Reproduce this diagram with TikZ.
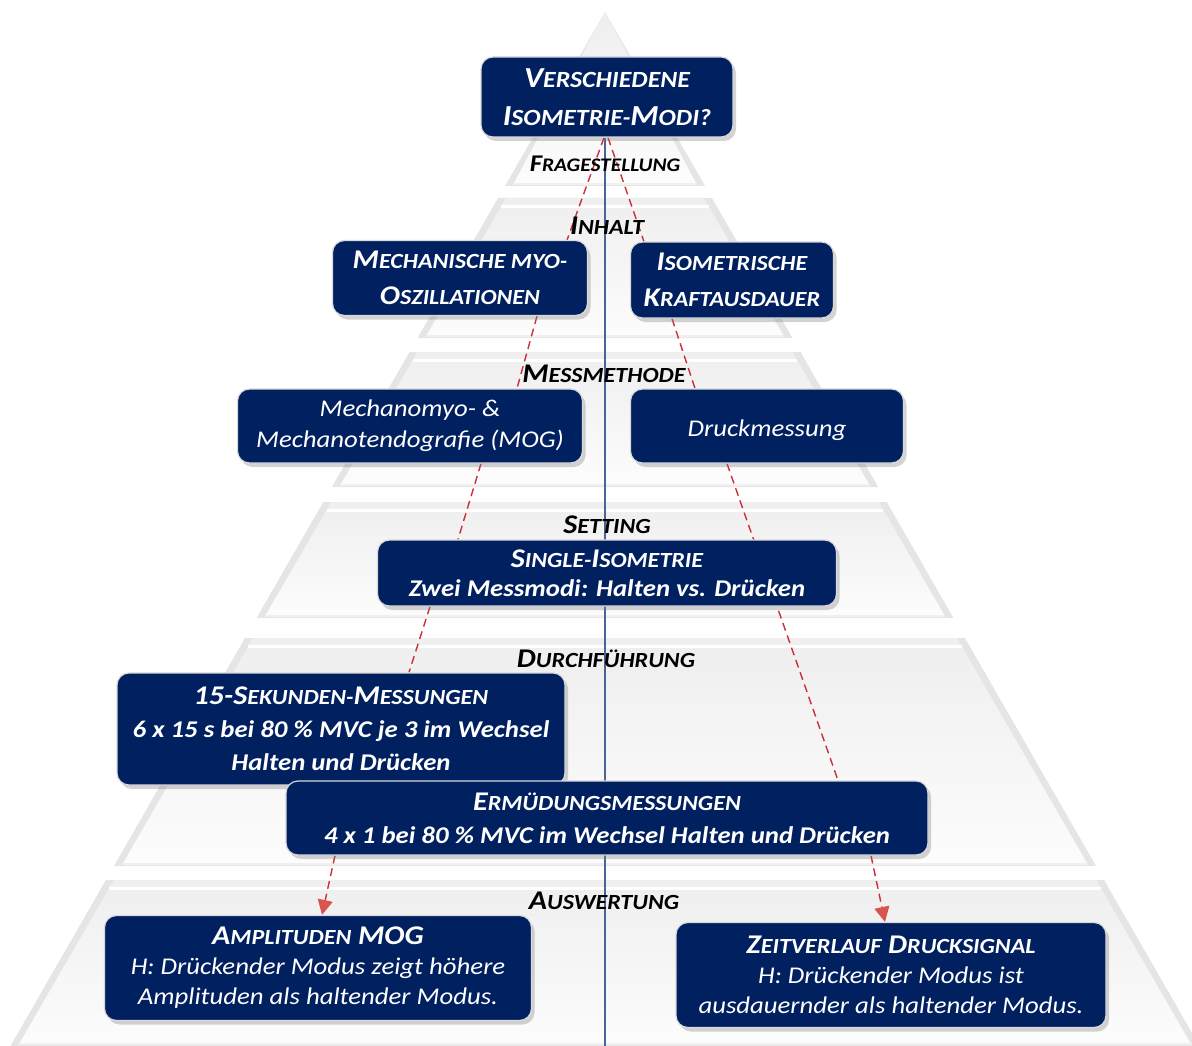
\documentclass[tikz,border=0pt]{standalone}
\usepackage{fontspec}
\setmainfont{Carlito}[FakeStretch=1.115]
\usetikzlibrary{arrows.meta,shadows}

\definecolor{navy}{HTML}{002060}
\definecolor{pfeilrot}{HTML}{C8303A}
\definecolor{pfeilhell}{HTML}{D9534F}
\definecolor{achse}{HTML}{4A6496}

\pgfdeclarelayer{unten}
\pgfdeclarelayer{mitte}
\pgfsetlayers{unten,mitte,main}

% falsche Kapitaelchen
\makeatletter
\newdimen\kapdim
\newcommand\kap[1]{{\kapdim=\f@size pt\kapdim=0.8\kapdim\fontsize{\kapdim}{\kapdim}\selectfont\MakeUppercase{#1}}}
\makeatother
\newcommand\gross[1]{{\fontsize{27}{30}\selectfont#1}}

\begin{document}
\begin{tikzpicture}[x=1pt, y=-1pt,
    kasten/.style={draw=gray!30, line width=1.2pt, fill=navy, rounded corners=12pt,
      text=white, align=center, inner sep=4pt,
      execute at begin node={\rule{0pt}{\dimexpr0.72em+8pt\relax}},
      drop shadow={opacity=0.35, shadow xshift=3pt, shadow yshift=-4pt}},
    fett/.style args={#1/#2}{font=\bfseries\itshape\fontsize{#1}{#2}\selectfont},
    duenn/.style args={#1/#2}{font=\itshape\fontsize{#1}{#2}\selectfont},
    stufe/.style={font=\bfseries\itshape\fontsize{27}{30}\selectfont, text=black},
    verbindung/.style={pfeilrot, line width=1.4pt, dash pattern=on 8pt off 5pt},
    pfeil/.style={verbindung, -{Triangle[length=15pt,width=15pt,color=pfeilhell]}},
    achsenlinie/.style={achse, line width=1.2pt}]
    \useasboundingbox (0,0) rectangle (1192,1046);

    % Pyramide
    \begin{pgfonlayer}{unten}
    \foreach \ta/\tb in {12/186, 198/338, 352/487, 502/618, 638/866, 880/1046}{
        \fill[gray!20] ({605-0.575*(\ta-12)},\ta) -- ({605+0.575*(\ta-12)},\ta)
            -- ({605+0.575*(\tb-12)},\tb) -- ({605-0.575*(\tb-12)},\tb) -- cycle;
        \shade[top color=gray!13, bottom color=gray!2]
            ({605-max(0.575*(\ta-12)-8,0)},\ta) -- ({605+max(0.575*(\ta-12)-8,0)},\ta)
            -- ({605+0.575*(\tb-12)-8},\tb-1) -- ({605-0.575*(\tb-12)+8},\tb-1) -- cycle;
        \draw[white, line width=3pt] ({605-max(0.575*(\ta-4)-8,0)},\ta+8) -- ({605+max(0.575*(\ta-4)-8,0)},\ta+8);
        \draw[gray!12, line width=2pt] ({605-0.575*(\tb-12)+8},\tb-2) -- ({605+0.575*(\tb-12)-8},\tb-2);
    }
    \end{pgfonlayer}

    \node[kasten, fett=29/38, minimum width=252pt, minimum height=80pt] (frage) at (607,97)
        {V\kap{erschiedene}\\I\kap{sometrie-}M\kap{odi?}};
    \node[kasten, fett=27/36, minimum width=255pt, minimum height=75pt] (myo) at (460,278)
        {M\kap{echanische myo-}\\O\kap{szillationen}};
    \node[kasten, fett=27/36, minimum width=203pt, minimum height=76pt] (kraft) at (732,280)
        {I\kap{sometrische}\\K\kap{raftausdauer}};
    \node[kasten, duenn=24/31, minimum width=345pt, minimum height=74pt] (mog) at (410,426)
        {Mechanomyo- \&\\Mechanotendografie (MOG)};
    \node[kasten, duenn=24/31, minimum width=273pt, minimum height=74pt] (druck) at (767,426)
        {Druckmessung};
    \node[kasten, fett=24/29, minimum width=459pt, minimum height=66pt] (single) at (607,573)
        {\gross{S\kap{ingle-}I\kap{sometrie}}\\Zwei Messmodi: Halten vs. Drücken};
    \node[kasten, fett=24/33, minimum width=448pt, minimum height=112pt] (kurz) at (341,729)
        {\gross{15-S\kap{ekunden-}M\kap{essungen}}\\6 x 15 s bei 80 \% MVC je 3 im Wechsel\\Halten und Drücken};
    \node[kasten, fett=24/33, minimum width=642pt, minimum height=74pt] (ermuedung) at (607,818)
        {\gross{E\kap{rmüdungsmessungen}}\\4 x 1 bei 80 \% MVC im Wechsel Halten und Drücken};
    \node[kasten, duenn=24/30, minimum width=427pt, minimum height=105pt] (amplitude) at (318,968)
        {{\bfseries\gross{A\kap{mplituden} MOG}}\\H: Drückender Modus zeigt höhere\\Amplituden als haltender Modus.};
    \node[kasten, duenn=24/30, minimum width=430pt, minimum height=105pt] (zeitverlauf) at (891,975)
        {{\bfseries\gross{Z\kap{eitverlauf} D\kap{rucksignal}}}\\H: Drückender Modus ist\\ausdauernder als haltender Modus.};

    \node[stufe, font=\bfseries\itshape\fontsize{24}{28}\selectfont] (l1) at (605,164) {F\kap{ragestellung}};
    \node[stufe] (l2) at (607,226) {I\kap{nhalt}};
    \node[stufe] (l3) at (604,374) {M\kap{essmethode}};
    \node[stufe] (l4) at (607,525) {S\kap{etting}};
    \node[stufe] (l5) at (606,659) {D\kap{urchführung}};
    \node[stufe] (l6) at (604,901) {A\kap{uswertung}};

    \coordinate (fuss) at (605,1046);

    \begin{pgfonlayer}{mitte}
    \draw[achsenlinie] ([xshift=-2pt]frage.south) -- (fuss);
    \draw[verbindung] ([xshift=-3pt]frage.south) -- ([xshift=-21pt]myo.north east);
    \draw[verbindung] ([xshift=1pt]frage.south) -- ([xshift=14pt]kraft.north west);
    \draw[verbindung] ([xshift=77pt]myo.south) -- ([xshift=107pt]mog.north);
    \draw[verbindung] ([xshift=-60pt]kraft.south) -- ([xshift=-72pt]druck.north);
    \draw[verbindung] ([xshift=71pt]mog.south) -- ([xshift=-149pt]single.north);
    \draw[verbindung] ([xshift=-177pt]single.south) -- ([xshift=68pt]kurz.north);
    \draw[verbindung] ([xshift=-40pt]druck.south) -- ([xshift=231pt]ermuedung.north);
    \draw[pfeil] ([xshift=-272pt]ermuedung.south) -- ([xshift=4pt]amplitude.north);
    \draw[pfeil] ([xshift=264pt]ermuedung.south) -- ([xshift=-6pt]zeitverlauf.north);
    \end{pgfonlayer}
\end{tikzpicture}
\end{document}
